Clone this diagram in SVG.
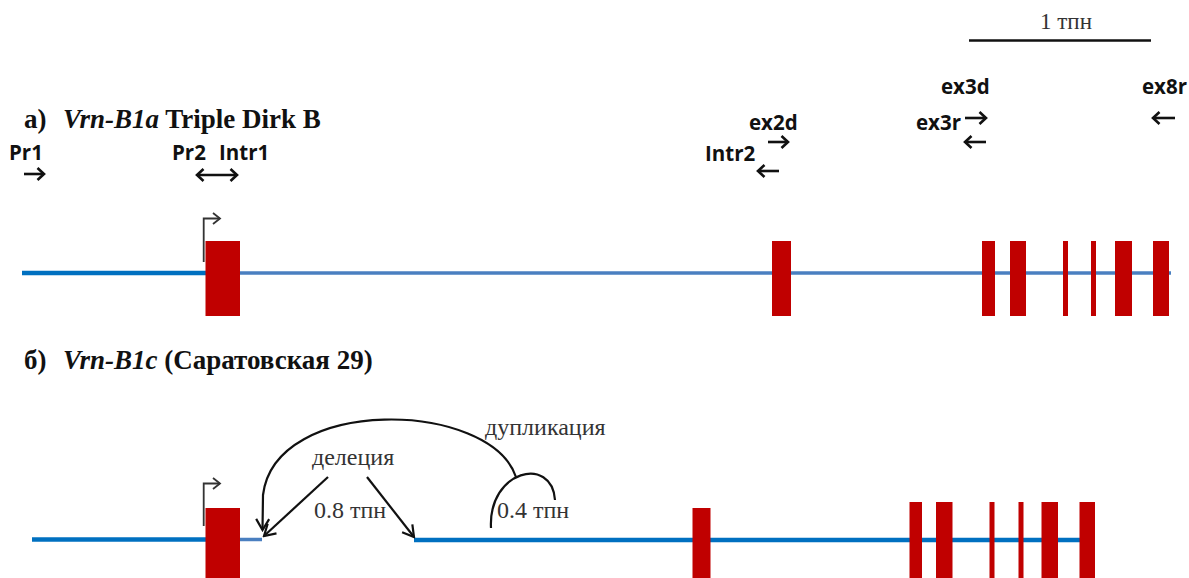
<svg xmlns="http://www.w3.org/2000/svg" width="1189" height="578" viewBox="0 0 1189 578">
<style>
.title{font-family:"Liberation Serif","Times New Roman",serif;font-weight:bold;font-size:27px;fill:#111}
.it{font-style:italic}
.lbl{font-family:"Open Sans","Liberation Sans",sans-serif;font-weight:bold;font-size:20.5px;fill:#111}
.note{font-family:"Liberation Serif","Times New Roman",serif;font-size:24px;fill:#333}
.scl{font-family:"Liberation Serif","Times New Roman",serif;font-size:23px;fill:#333}
.prim{stroke:#111;stroke-width:2.6;fill:none}
.conn{stroke:#111;stroke-width:2.2;fill:none}
.exon{fill:#c00000}
.dna{stroke:#0070c0;stroke-width:4.5;fill:none}
.dna2{stroke:#4a7fc0;stroke-width:3.5;fill:none}
.tss{stroke:#333;stroke-width:1.8;fill:none}
</style>
<defs>
<marker id="ph" markerUnits="userSpaceOnUse" markerWidth="10" markerHeight="14" refX="8" refY="7" orient="auto-start-reverse" viewBox="0 0 10 14">
<path d="M1.5,1 L8,7 L1.5,13" fill="none" stroke="#111" stroke-width="2.6"/>
</marker>
<marker id="ah" markerUnits="userSpaceOnUse" markerWidth="14" markerHeight="16" refX="12" refY="8" orient="auto" viewBox="0 0 14 16">
<path d="M1,1.5 L12,8 L1,14.5" fill="none" stroke="#111" stroke-width="2.2"/>
</marker>
<marker id="th" markerUnits="userSpaceOnUse" markerWidth="10" markerHeight="14" refX="8" refY="7" orient="auto" viewBox="0 0 10 14">
<path d="M1,1.5 L8,7 L1,12.5" fill="none" stroke="#333" stroke-width="1.8"/>
</marker>
</defs>
<rect width="1189" height="578" fill="#fff"/>

<g id="scale-bar">
<text class="scl" x="1066" y="29" text-anchor="middle">1 тпн</text>
<line x1="969" y1="40.5" x2="1151" y2="40.5" stroke="#111" stroke-width="2.5"/>
</g>

<g id="title-a">
<text class="title" x="24" y="128">a)<tspan class="it" x="63">Vrn-B1a</tspan> Triple Dirk B</text>
</g>

<g id="primer-Pr1">
<text class="lbl" x="9" y="160">Pr1</text>
<line class="prim" x1="24" y1="174" x2="44" y2="174" marker-end="url(#ph)"/>
</g>
<g id="primer-Pr2-Intr1">
<text class="lbl" x="172" y="160">Pr2</text>
<text class="lbl" x="219" y="160">Intr1</text>
<line class="prim" x1="197" y1="175" x2="237" y2="175" marker-start="url(#ph)" marker-end="url(#ph)"/>
</g>
<g id="primer-ex2d">
<text class="lbl" x="749" y="130">ex2d</text>
<line class="prim" x1="768" y1="142" x2="788" y2="142" marker-end="url(#ph)"/>
</g>
<g id="primer-Intr2">
<text class="lbl" x="705" y="161">Intr2</text>
<line class="prim" x1="779" y1="171" x2="758" y2="171" marker-end="url(#ph)"/>
</g>
<g id="primer-ex3d">
<text class="lbl" x="941" y="94">ex3d</text>
<line class="prim" x1="965" y1="118" x2="986" y2="118" marker-end="url(#ph)"/>
</g>
<g id="primer-ex3r">
<text class="lbl" x="916" y="130">ex3r</text>
<line class="prim" x1="986" y1="142" x2="965" y2="142" marker-end="url(#ph)"/>
</g>
<g id="primer-ex8r">
<text class="lbl" x="1142" y="94">ex8r</text>
<line class="prim" x1="1175" y1="118" x2="1153" y2="118" marker-end="url(#ph)"/>
</g>

<g id="gene-a">
<line class="dna" x1="22" y1="273" x2="206" y2="273"/>
<line class="dna2" x1="239" y1="273" x2="1171" y2="273"/>
<path class="tss" d="M203.7,262 L203.7,218.5 L220,218.5" marker-end="url(#th)"/>
<rect class="exon" x="205.5" y="241" width="34.5" height="75"/>
<rect class="exon" x="772" y="241" width="19" height="75"/>
<rect class="exon" x="982" y="241" width="13" height="75"/>
<rect class="exon" x="1010" y="241" width="16" height="75"/>
<rect class="exon" x="1063" y="241" width="5" height="75"/>
<rect class="exon" x="1091" y="241" width="5" height="75"/>
<rect class="exon" x="1115" y="241" width="17" height="75"/>
<rect class="exon" x="1153" y="241" width="16" height="75"/>
</g>

<g id="title-b">
<text class="title" x="24" y="369">б)<tspan class="it" x="63">Vrn-B1c</tspan> (Саратовская 29)</text>
</g>

<g id="gene-b">
<line class="dna" x1="32" y1="539.5" x2="206" y2="539.5"/>
<line class="dna2" x1="239" y1="539.5" x2="262" y2="539.5"/>
<line class="dna" x1="414" y1="540" x2="1080" y2="540"/>
<path class="tss" d="M203.7,526 L203.7,483.5 L220,483.5" marker-end="url(#th)"/>
<rect class="exon" x="205.5" y="508" width="34.5" height="75"/>
<rect class="exon" x="692.5" y="508" width="18" height="75"/>
<rect class="exon" x="909.5" y="502" width="12.5" height="80"/>
<rect class="exon" x="936" y="502" width="16.5" height="80"/>
<rect class="exon" x="989.5" y="502" width="5" height="80"/>
<rect class="exon" x="1018.5" y="502" width="5" height="80"/>
<rect class="exon" x="1041.5" y="502" width="16.5" height="80"/>
<rect class="exon" x="1079.5" y="502" width="15.5" height="80"/>
</g>

<g id="labels-b">
<text class="note" x="485" y="435">дупликация</text>
<text class="note" x="312" y="465">делеция</text>
<text class="note" x="314" y="518">0.8 тпн</text>
<text class="note" x="497" y="518">0.4 тпн</text>
</g>

<g id="connectors">
<path class="conn" d="M516,477 C490,400 275,395 263,495 L262.5,530" marker-end="url(#ah)"/>
<path class="conn" d="M491,528 C488,470 552,455 555,500"/>
<line class="conn" x1="328" y1="477" x2="264" y2="536" marker-end="url(#ah)"/>
<line class="conn" x1="367" y1="477" x2="414" y2="537" marker-end="url(#ah)"/>
</g>
</svg>
